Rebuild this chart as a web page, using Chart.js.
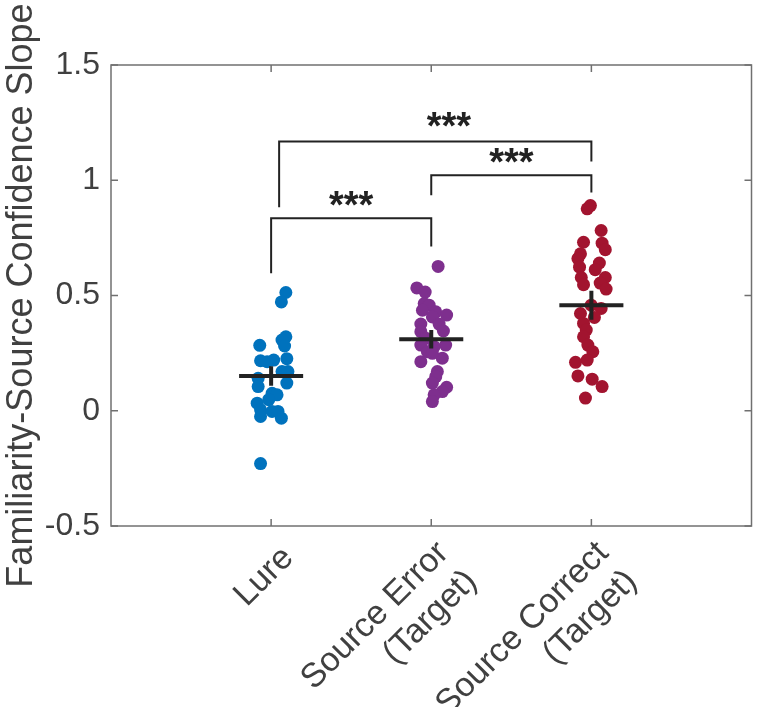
<!DOCTYPE html>
<html>
<head>
<meta charset="utf-8">
<script src="https://cdn.jsdelivr.net/npm/chart.js@4.4.1/dist/chart.umd.min.js"></script>
<style>
  html, body { margin: 0; padding: 0; background: #fff; }
  #wrap { width: 758px; height: 707px; }
</style>
</head>
<body>
<div id="wrap"><canvas id="chart" width="758" height="707"></canvas></div>
<script>
// ── Data ───────────────────────────────────────────────────
const categories  = [['Lure'], ['Source Error', '(Target)'], ['Source Correct', '(Target)']];
const categoryPos = [1, 2, 3];
const yTicks      = [-0.5, 0, 0.5, 1, 1.5];

const lureX = [1.092, 1.064, 1.092, 1.068, 1.084, 0.929, 0.934, 1.016, 0.975, 1.098, 1.068, 1.105, 0.919,
               0.919, 1.098, 1.006, 1.037, 0.985, 0.913, 0.934, 0.934, 1.006, 1.043, 1.064, 0.934];
const lureY = [0.513, 0.472, 0.321, 0.307, 0.281, 0.284, 0.217, 0.220, 0.213, 0.226, 0.170, 0.170, 0.141,
               0.105, 0.120, 0.076, 0.069, 0.048, 0.033, 0.004, -0.025, -0.003, -0.003, -0.032, -0.229];

const errorX = [2.043, 1.910, 1.962, 1.956, 1.987, 1.945, 2.028, 2.096, 2.007, 1.935, 2.049, 2.076, 1.935, 1.966,
                2.090, 1.935, 2.018, 1.976, 2.069, 1.935, 2.007, 2.038, 2.028, 2.007, 2.096, 2.069, 2.018, 2.007];
const errorY = [0.626, 0.533, 0.515, 0.465, 0.458, 0.436, 0.429, 0.415, 0.407, 0.376, 0.376, 0.346, 0.343, 0.314,
                0.285, 0.285, 0.278, 0.256, 0.228, 0.213, 0.249, 0.170, 0.148, 0.120, 0.102, 0.083, 0.069, 0.040];

const correctX = [2.994, 2.974, 3.061, 2.951, 3.067, 3.087, 2.932, 2.916, 3.050, 2.926, 3.024, 3.087, 2.937, 3.055,
                  2.951, 3.092, 2.999, 3.061, 2.932, 3.019, 2.951, 2.968, 2.951, 2.978, 3.009, 2.974, 2.901, 2.916,
                  3.005, 3.067, 2.963];
const correctY = [0.890, 0.876, 0.782, 0.731, 0.727, 0.699, 0.681, 0.660, 0.641, 0.623, 0.612, 0.578, 0.578, 0.554,
                  0.547, 0.528, 0.458, 0.444, 0.422, 0.405, 0.379, 0.350, 0.321, 0.285, 0.256, 0.220, 0.210, 0.151,
                  0.137, 0.105, 0.055];

const groupMeans = [0.151, 0.310, 0.458];
const groupSems  = [0.042, 0.040, 0.063];
const meanHalfWidth = 0.2;

// significance brackets: x and y of each corner, left foot → right foot
const bracketX = [[1.0, 1.0, 2.0, 2.0], [2.0, 2.0, 3.0, 3.0], [1.05, 1.05, 3.0, 3.0]];
const bracketY = [[0.597, 0.835, 0.835, 0.713], [0.935, 1.022, 1.022, 0.947], [0.883, 1.168, 1.168, 1.081]];
const starX    = [1.50, 2.50, 2.11];
const starY    = [0.919, 1.109, 1.264];
const starText = ['***', '***', '***'];

// ── Styles ─────────────────────────────────────────────────
const COLORS = ['#0072BD', '#7E2F8E', '#A2142F'];
const TEXT   = '#404040';
const AXIS   = '#707070';
const INK    = '#222222';
const FONT   = '"Liberation Sans", Arial, Helvetica, sans-serif';

const toPts = (xs, ys) => xs.map((x, i) => ({ x, y: ys[i] }));

// ── Datasets ───────────────────────────────────────────────
const datasets = [];

[[lureX, lureY], [errorX, errorY], [correctX, correctY]].forEach(([xs, ys], g) => {
    datasets.push({
        data: toPts(xs, ys),
        backgroundColor: COLORS[g],
        borderWidth: 0,
        pointRadius: 6.5,
        pointHoverRadius: 6.5,
        order: 2,
    });
});

const lineSet = (data, width) => ({
    data,
    showLine: true,
    borderColor: INK,
    borderWidth: width,
    pointRadius: 0,
    pointHoverRadius: 0,
    tension: 0,
    fill: false,
    borderCapStyle: 'butt',
    order: 1,
});

categoryPos.forEach((pos, g) => {
    const m = groupMeans[g], s = groupSems[g];
    datasets.push(lineSet([{ x: pos - meanHalfWidth, y: m }, { x: pos + meanHalfWidth, y: m }], 4));
    datasets.push(lineSet([{ x: pos, y: m - s }, { x: pos, y: m + s }], 4));
});

bracketX.forEach((xs, b) => datasets.push(lineSet(toPts(xs, bracketY[b]), 2)));

// ── Plugins ────────────────────────────────────────────────
// box round the axes with inward ticks on all four sides (MATLAB "box on")
const matlabBox = {
    id: 'matlabBox',
    beforeDatasetsDraw(chart) {
        const { ctx, chartArea: a, scales: { x, y } } = chart;
        ctx.save();
        ctx.strokeStyle = AXIS;
        ctx.lineWidth   = 1.5;
        ctx.strokeRect(a.left, a.top, a.right - a.left, a.bottom - a.top);
        ctx.beginPath();
        yTicks.forEach(v => {
            const py = y.getPixelForValue(v);
            ctx.moveTo(a.left, py);  ctx.lineTo(a.left + 7, py);
            ctx.moveTo(a.right, py); ctx.lineTo(a.right - 7, py);
        });
        categoryPos.forEach(v => {
            const px = x.getPixelForValue(v);
            ctx.moveTo(px, a.bottom); ctx.lineTo(px, a.bottom - 7);
            ctx.moveTo(px, a.top);    ctx.lineTo(px, a.top + 7);
        });
        ctx.stroke();
        ctx.restore();
    },
};

// rotated category labels, right aligned, lines stacked below the anchor
const xLabels = {
    id: 'xLabels',
    afterDraw(chart) {
        const { ctx, chartArea: a, scales: { x } } = chart;
        const lh = 40;
        ctx.save();
        ctx.fillStyle    = TEXT;
        ctx.font         = `34px ${FONT}`;
        ctx.textAlign    = 'right';
        ctx.textBaseline = 'middle';
        categories.forEach((lines, i) => {
            const n = lines.length;
            ctx.save();
            ctx.translate(x.getPixelForValue(categoryPos[i]) + 17, a.bottom + 26.8);
            ctx.rotate(-Math.PI / 4);
            lines.forEach((t, j) => ctx.fillText(t, 0, (j - (n - 1) / 2) * lh + (n - 1) * 13));
            ctx.restore();
        });
        ctx.restore();
    },
};

const stars = {
    id: 'stars',
    afterDatasetsDraw(chart) {
        const { ctx, scales: { x, y } } = chart;
        ctx.save();
        ctx.fillStyle    = INK;
        ctx.font         = `bold 38px ${FONT}`;
        ctx.textAlign    = 'center';
        ctx.textBaseline = 'alphabetic';
        starText.forEach((t, i) => {
            const m   = ctx.measureText(t);
            const cy  = y.getPixelForValue(starY[i]);
            const off = (m.actualBoundingBoxAscent - m.actualBoundingBoxDescent) / 2;
            ctx.fillText(t, x.getPixelForValue(starX[i]), cy + off);
        });
        ctx.restore();
    },
};

// ── Chart ──────────────────────────────────────────────────
new Chart(document.getElementById('chart').getContext('2d'), {
    type: 'scatter',
    data: { datasets },
    plugins: [matlabBox, xLabels, stars],
    options: {
        responsive: false,
        animation: false,
        layout: { padding: { top: 65, right: 1, left: 0, bottom: 0 } },
        plugins: { legend: { display: false }, tooltip: { enabled: false } },
        scales: {
            x: {
                type: 'linear',
                min: 0,
                max: 4,
                grid: { display: false, drawTicks: false },
                border: { display: false },
                afterBuildTicks: s => { s.ticks = categoryPos.map(v => ({ value: v })); },
                afterFit: s => { s.height = 181; },
                ticks: { display: false },
            },
            y: {
                min: -0.5,
                max: 1.5,
                grid: { display: false, drawTicks: false },
                border: { display: false },
                afterBuildTicks: s => { s.ticks = yTicks.map(v => ({ value: v })); },
                afterFit: s => { s.width = 111; },
                ticks: {
                    padding: 11,
                    color: TEXT,
                    font: { family: FONT, size: 32 },
                    callback: v => String(v),
                },
                title: {
                    display: true,
                    text: 'Familiarity-Source Confidence Slope',
                    color: TEXT,
                    font: { family: FONT, size: 36 },
                    padding: { top: 0, bottom: 0 },
                },
            },
        },
    },
});
</script>
</body>
</html>
